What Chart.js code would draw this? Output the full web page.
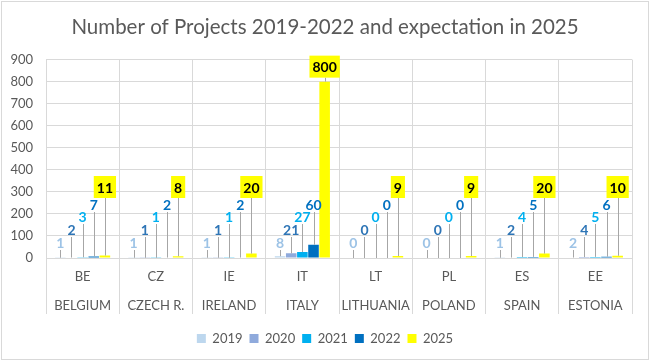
<!DOCTYPE html>
<html>
<head>
<meta charset="utf-8">
<script src="https://cdn.jsdelivr.net/npm/chart.js@4.4.1/dist/chart.umd.min.js"></script>
<style>
  body { margin: 0; background: #fff; }
</style>
</head>
<body>
<canvas id="mycanvas" width="650" height="361"></canvas>
<script>
// categories (two level axis)
var codes = ['BE', 'CZ', 'IE', 'IT', 'LT', 'PL', 'ES', 'EE'];
var countries = ['BELGIUM', 'CZECH R.', 'IRELAND', 'ITALY', 'LITHUANIA', 'POLAND', 'SPAIN', 'ESTONIA'];
var years = ['2019', '2020', '2021', '2022', '2025'];

// number of projects per year
var p2019 = [1, 1, 1, 8, 0, 0, 1, 2];
var p2020 = [2, 1, 1, 21, 0, 0, 2, 4];
var p2021 = [3, 1, 1, 27, 0, 0, 4, 5];
var p2022 = [7, 2, 2, 60, 0, 0, 5, 6];
var p2025 = [11, 8, 20, 800, 9, 9, 20, 10];

var yMin = 0, yMax = 900, yStep = 100;

var FONT = 'Lato, "Open Sans", sans-serif';
var grey = '#595959';
var gridCol = '#d9d9d9';

var barColors = ['#BDD7EE', '#8FAADC', '#00B0F0', '#0070C0', '#FFFF00'];
var labelColors = ['#9DC3E6', '#2E75B6', '#00B0F0', '#0070C0', '#000000'];
var labelLift = [16, 29, 42, 54, 71]; // px above the baseline, Excel-style callouts

var series = [p2019, p2020, p2021, p2022, p2025];
var datasets = [];
for (var i = 0; i < years.length; i++) {
  datasets.push({
    label: years[i],
    data: series[i],
    backgroundColor: barColors[i],
    borderWidth: 0,
    categoryPercentage: 0.76,
    barPercentage: 0.95
  });
}

var labels = [];
for (var k = 0; k < codes.length; k++) labels.push([codes[k], countries[k]]);

// white background + thin frame like the Excel chart area
var frame = {
  id: 'frame',
  beforeDraw: function(chart) {
    var ctx = chart.ctx;
    ctx.save();
    ctx.fillStyle = '#fff';
    ctx.fillRect(0, 0, chart.width, chart.height);
    ctx.strokeStyle = '#d9d9d9';
    ctx.lineWidth = 1;
    ctx.strokeRect(1.5, 1.5, chart.width - 3, chart.height - 3);
    ctx.restore();
  }
};

// data labels with leader lines
var callouts = {
  id: 'callouts',
  afterDatasetsDraw: function(chart) {
    var ctx = chart.ctx;
    var base = chart.scales.y.getPixelForValue(0);
    ctx.save();
    ctx.font = 'bold 14px ' + FONT;
    ctx.textAlign = 'center';
    ctx.textBaseline = 'middle';
    chart.data.datasets.forEach(function(ds, i) {
      var meta = chart.getDatasetMeta(i);
      meta.data.forEach(function(bar, j) {
        var txt = String(ds.data[j]);
        var w = ctx.measureText(txt).width;
        var boxed = (i === 4);
        var h = boxed ? 22 : 16;
        var cy = Math.min(base - labelLift[i], bar.y - (boxed ? 4 : 3) - h / 2);
        var bottom = cy + h / 2;
        if (bar.y - bottom > 3) {
          ctx.strokeStyle = '#a6a6a6';
          ctx.lineWidth = 1;
          ctx.beginPath();
          ctx.moveTo(Math.round(bar.x) + 0.5, bottom);
          ctx.lineTo(Math.round(bar.x) + 0.5, bar.y);
          ctx.stroke();
        }
        if (boxed) {
          ctx.fillStyle = '#FFFF00';
          ctx.fillRect(bar.x - w / 2 - 3, cy - h / 2, w + 6, h);
        }
        ctx.fillStyle = labelColors[i];
        ctx.fillText(txt, bar.x, cy + 1);
      });
    });
    ctx.restore();
  }
};

var ctx = document.getElementById('mycanvas');

var barGraph = new Chart(ctx, {
  type: 'bar',
  data: { labels: labels, datasets: datasets },
  plugins: [frame, callouts],
  options: {
    responsive: false,
    animation: false,
    layout: { padding: { left: 0, right: 0, top: 0, bottom: 6 } },
    plugins: {
      title: {
        display: true,
        text: 'Number of Projects 2019-2022 and expectation in 2025',
        color: grey,
        font: { family: FONT, size: 20.5, weight: 'normal' },
        padding: { top: 15, bottom: 20 }
      },
      legend: {
        position: 'bottom',
        labels: {
          color: grey,
          boxWidth: 9,
          boxHeight: 9,
          padding: 7,
          font: { family: FONT, size: 13 }
        }
      },
      tooltip: { enabled: false }
    },
    scales: {
      x: {
        grid: {
          color: gridCol,
          offset: true,
          drawTicks: true,
          tickLength: 56,
          tickColor: gridCol
        },
        border: { color: gridCol },
        ticks: {
          color: grey,
          padding: -52,
          maxRotation: 0,
          autoSkip: false,
          font: { family: FONT, size: 13, lineHeight: 2.23 }
        },
        afterFit: function(scale) { scale.height = 67; }
      },
      y: {
        min: yMin,
        max: yMax,
        ticks: {
          stepSize: yStep,
          color: grey,
          padding: 13,
          font: { family: FONT, size: 13 }
        },
        grid: { color: gridCol, drawTicks: false },
        border: { color: gridCol },
        afterFit: function(scale) { scale.width = 46; }
      },
      // empty right axis, only keeps the margin on the right side
      yRight: {
        position: 'right',
        min: yMin,
        max: yMax,
        ticks: { display: false },
        grid: { display: false },
        border: { display: false },
        afterFit: function(scale) { scale.width = 18; }
      }
    }
  }
});
</script>
</body>
</html>
